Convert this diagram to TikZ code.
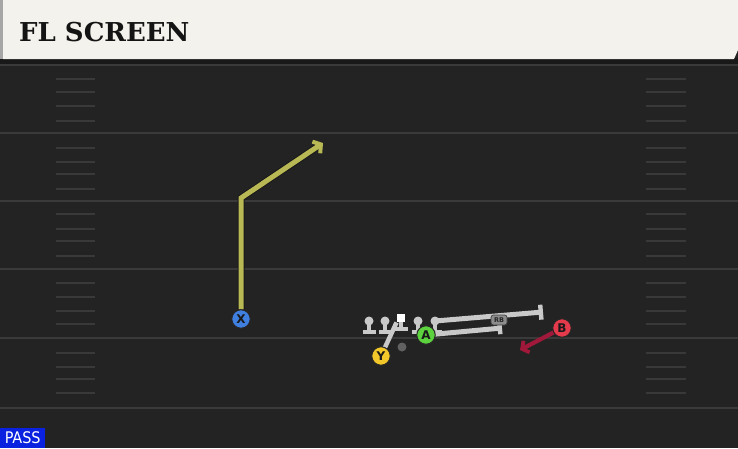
\documentclass[tikz,border=0pt]{standalone}
\usepackage{fontspec}
\setmainfont{DejaVu Sans}
\newfontfamily\titlefont{DejaVu Serif}
\newfontfamily\condfont{DejaVu Sans Condensed}
\usetikzlibrary{arrows.meta,calc}
\pgfdeclarelayer{fieldlayer}
\pgfdeclarelayer{routelayer}
\pgfsetlayers{fieldlayer,routelayer,main}
\definecolor{fieldbg}{HTML}{232323}
\definecolor{yardcol}{HTML}{3A3A3A}
\definecolor{hashcol}{HTML}{393939}
\definecolor{headbg}{HTML}{F4F2EC}
\definecolor{routeyel}{HTML}{B8B855}
\definecolor{blockgray}{HTML}{C9C9C9}
\definecolor{routered}{HTML}{A0183A}
\definecolor{xblue}{HTML}{3F7FE0}
\definecolor{yyel}{HTML}{F2C72A}
\definecolor{agreen}{HTML}{5CD23E}
\definecolor{bred}{HTML}{E53A4B}
\definecolor{passblue}{HTML}{0A22E0}
\tikzset{
  player/.style={circle, draw=black!85, line width=1pt, minimum size=18.5pt, inner sep=0pt,
    font=\fontsize{12}{12}\selectfont\bfseries, text=black!90},
  yardline/.style={draw=yardcol, line width=2.2pt},
  hashline/.style={draw=hashcol, line width=2pt},
  blockline/.style={draw=blockgray, line width=5pt},
  lhead/.style={circle, fill=blockgray, inner sep=0pt, minimum size=9pt},
}
\begin{document}
\begin{tikzpicture}[x=1pt,y=-1pt]
\useasboundingbox (0,0) rectangle (738,448);
\begin{pgfonlayer}{fieldlayer}
% field
\fill[fieldbg] (0,0) rectangle (738,448);
% header
\fill[black!90] (0,58) rectangle (738,65);
\fill[black!35] (0,0) rectangle (3,59);
\fill[headbg] (3,0) -- (738,0) -- (738,50) -- (734,59) -- (3,59) -- cycle;
% yard lines
\foreach \y in {65,133,201,269,338,408} {\draw[yardline] (0,\y) -- (738,\y);}
% hash marks
\foreach \y in {79,92,106,121,148,162,174,189,214,229,241,256,283,297,311,324,353,367,379,393} {
  \draw[hashline] (56,\y) -- (95,\y);
  \draw[hashline] (646,\y) -- (686,\y);
}
\end{pgfonlayer}
\node[anchor=west, font=\titlefont\fontsize{26}{26}\selectfont\bfseries, text=black!92, inner sep=0pt]
  (title) at (19,32) {FL SCREEN};
% players
\node[player, fill=xblue] (X) at (241,319) {X};
\node[player, fill=yyel] (Y) at (381,356) {Y};
\node[player, fill=agreen] (A) at (426,335) {A};
\node[player, fill=bred] (B) at (562,328) {B};
% linemen heads
\node[lhead] (L1) at (369,321) {};
\node[lhead] (L2) at (385,321) {};
\node[fill=white, minimum size=8.5pt, inner sep=0pt] (C) at (401,318) {};
\node[lhead] (R1) at (418,321) {};
\node[lhead] (R2) at (435,321) {};
\node[circle, fill=black!62, minimum size=9pt, inner sep=0pt] (QB) at (402,347) {};
\coordinate (xbreak) at (241,198);
\coordinate (xend) at (323,143);
\coordinate (blk1) at (543,312);
\coordinate (blk2) at (502,328);
\coordinate (bend) at (520,350);
\begin{pgfonlayer}{routelayer}
% linemen stems
\foreach \n in {L1,L2,C,R1,R2} {
  \draw[blockgray, line width=4pt] (\n.center) -- ++(0,11);
  \draw[blockgray, line width=3.8pt] ($(\n.center)+(-6.5,11)$) -- ++(13,0);
}
% X route
\draw[black!90, line width=7pt, line join=miter] (X.center) -- (xbreak) -- ($(xend)!7pt!(xbreak)$);
\draw[routeyel, line width=5pt, line join=miter, -{Straight Barb[length=5.5pt,width=14pt,line width=4pt]}]
  (X.north) -- (xbreak) -- (xend);
% Y block line
\draw[blockline, line width=4.5pt] (Y.center) -- (C.south west);
% RB block lines
\draw[blockline, -{Bar[width=15pt,line width=4.4pt]}] (R2.center) -- (blk1);
\draw[blockline, -{Bar[width=12pt,line width=4.4pt]}] (A.center) -- (blk2);
% B route
\draw[routered, line width=4.2pt, -{Straight Barb[length=5pt,width=13pt,line width=3.8pt]}] (B.center) -- (bend);
\end{pgfonlayer}
% RB icon
\node[rounded corners=2.5pt, fill=black!45, draw=black!75, line width=0.7pt, minimum width=16pt, minimum height=10pt,
  inner sep=0pt, font=\fontsize{6.5}{6.5}\selectfont\bfseries, text=black!85] (RB) at (499,320) {RB};
% PASS label
\node[fill=passblue, anchor=south west, minimum width=45pt, minimum height=20pt, inner sep=0pt,
  text=white, font=\condfont\fontsize{16}{16}\selectfont] (pass) at (0,448) {PASS};
\end{tikzpicture}
\end{document}
